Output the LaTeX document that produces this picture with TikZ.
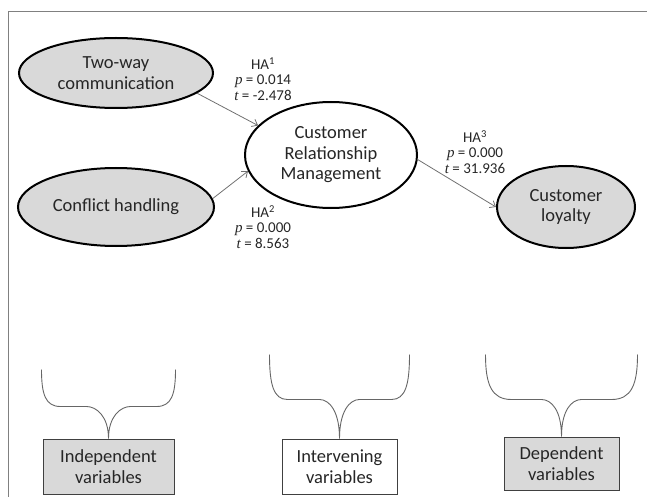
\documentclass[tikz,border=0pt]{standalone}
\usepackage{fontspec}
\setmainfont{Carlito}
\newfontfamily\statserif{Liberation Serif}
\usetikzlibrary{shapes.geometric,arrows.meta}

\definecolor{fillgray}{HTML}{D9D9D9}
\definecolor{linegray}{HTML}{707070}
\newcommand{\sv}[1]{{\statserif\itshape #1}}

\begin{document}
\begin{tikzpicture}[x=1pt, y=-1pt,
  every node/.style={font=\fontsize{18.5}{20.5}\selectfont, text=black!85},
  var/.style={draw, ellipse, line width=2pt, inner sep=0pt, align=center},
  stat/.style={align=center, inner sep=0pt, font=\fontsize{15}{15.5}\selectfont},
  vbox/.style={draw=black!75, line width=1pt, inner sep=0pt, align=center},
  path/.style={draw=linegray, line width=0.8pt, -{Straight Barb[length=5pt,width=8pt]}},
  brace/.style={draw=black!60, line width=0.9pt}]
\useasboundingbox (0,0) rectangle (647,497);
\draw[black!50, line width=1pt] (8,497) -- (8,12) -- (647,12);

\node[var, fill=fillgray, minimum width=194pt, minimum height=70pt] (twoway) at (116,73) {Two-way\\communication};
\node[var, fill=fillgray, minimum width=196pt, minimum height=78pt] (conflict) at (116,207) {Conflict handling};
\node[var, fill=white, minimum width=172pt, minimum height=106pt] (crm) at (331,155) {Customer\\Relationship\\Management};
\node[var, fill=fillgray, minimum width=138pt, minimum height=82pt] (loyalty) at (566,207) {Customer\\loyalty};

\draw[path] (twoway.-14) -- (crm.158);
\draw[path] (conflict.5) -- (crm.191);
\draw[path] (crm.-3) -- (loyalty.west);

\node[stat] (ha1) at (263,79) {HA\textsuperscript{1}\\\sv{p} = 0.014\\\sv{t} = -2.478};
\node[stat] (ha2) at (263,227) {HA\textsuperscript{2}\\\sv{p} = 0.000\\\sv{t} = 8.563};
\node[stat] (ha3) at (475,152) {HA\textsuperscript{3}\\\sv{p} = 0.000\\\sv{t} = 31.936};

\node[vbox, fill=fillgray, minimum width=131pt, minimum height=55pt] (indep) at (108.5,466.5) {Independent\\variables};
\node[vbox, fill=white, minimum width=115pt, minimum height=55pt] (interv) at (339.5,466.5) {Intervening\\variables};
\node[vbox, fill=fillgray, minimum width=115pt, minimum height=53pt] (dep) at (561.5,463.5) {Dependent\\variables};

% braces over the boxes
\draw[brace] (indep.north) .. controls +(0,-22) and +(10,0) .. ++(-22,-32) -- ++(-26,0) .. controls +(-15,0) and +(0,25) .. ++(-19,-37)
  (indep.north) .. controls +(0,-22) and +(-10,0) .. ++(22,-32) -- ++(26,0) .. controls +(15,0) and +(0,25) .. ++(19,-37);
\draw[brace] (interv.north) .. controls +(0,-27) and +(10,0) .. ++(-20,-39) -- ++(-32,0) .. controls +(-14,0) and +(0,30) .. ++(-18,-45)
  (interv.north) .. controls +(0,-27) and +(-10,0) .. ++(20,-39) -- ++(32,0) .. controls +(14,0) and +(0,30) .. ++(18,-45);
\draw[brace] (dep.north) .. controls +(0,-26) and +(10,0) .. ++(-20,-37) -- ++(-30,0) .. controls +(-20,0) and +(0,30) .. ++(-26,-45)
  (dep.north) .. controls +(0,-26) and +(-10,0) .. ++(20,-37) -- ++(30,0) .. controls +(20,0) and +(0,30) .. ++(26,-45);
\end{tikzpicture}
\end{document}
